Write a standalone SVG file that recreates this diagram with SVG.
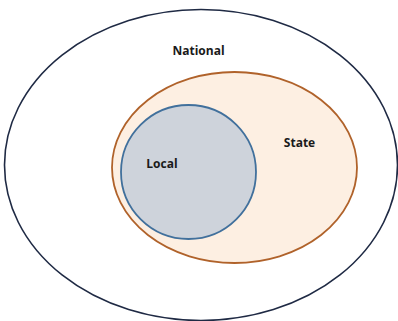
<svg xmlns="http://www.w3.org/2000/svg" width="398" height="321" viewBox="0 0 398 321">
<style>
text{font-family:"Open Sans","Liberation Sans",sans-serif;font-weight:bold;font-size:12px;fill:#1a1a1a;text-anchor:middle}
</style>
<rect width="398" height="321" fill="#ffffff"/>
<g id="national">
<ellipse cx="201" cy="165" rx="196.5" ry="155.5" fill="#ffffff" stroke="#1f2a44" stroke-width="1.6"/>
<text x="198.5" y="55">National</text>
</g>
<g id="state">
<ellipse cx="234.5" cy="167.5" rx="122.5" ry="95.5" fill="#fdefe2" stroke="#b0622a" stroke-width="1.8"/>
<text x="299.5" y="147">State</text>
</g>
<g id="local">
<ellipse cx="188.5" cy="172" rx="67.5" ry="67" fill="#ced3db" stroke="#41709c" stroke-width="1.8"/>
<text x="162" y="168">Local</text>
</g>
<g id="connectors"/>
</svg>
